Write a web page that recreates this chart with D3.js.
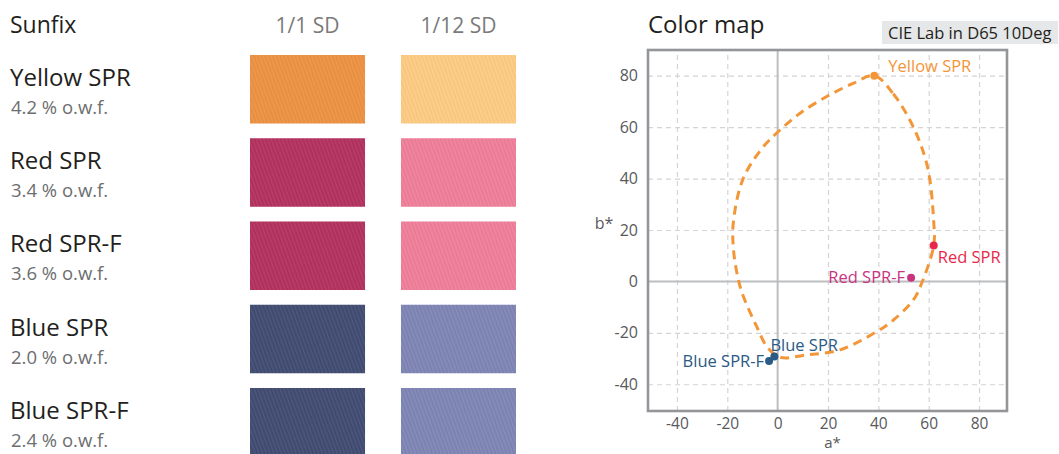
<!DOCTYPE html>
<html>
<head>
<meta charset="utf-8">
<script src="https://cdn.jsdelivr.net/npm/d3@7"></script>
<style>
  html, body { margin: 0; padding: 0; background: #fff; }
  svg { display: block; font-family: "Open Sans", "Noto Sans", sans-serif; }
</style>
</head>
<body>
<svg id="chart" width="1059" height="454"></svg>
<script>
// ---------- data ----------
const samples = ["Yellow SPR", "Red SPR", "Red SPR-F", "Blue SPR", "Blue SPR-F"];
const concentrations = ["4.2 % o.w.f.", "3.4 % o.w.f.", "3.6 % o.w.f.", "2.0 % o.w.f.", "2.4 % o.w.f."];
const depthColumns = ["1/1 SD", "1/12 SD"];
const swatchFull = ["#ec9142", "#b3315f", "#b3315f", "#414c72", "#414c72"];
const swatchLight = ["#fccb82", "#ef7e99", "#ef7e99", "#7f85b4", "#7f85b4"];

const pointLabels = ["Yellow SPR", "Red SPR", "Red SPR-F", "Blue SPR", "Blue SPR-F"];
const pointA = [38.4, 62.0, 53.0, -1.3, -3.4];
const pointB = [80.0, 14.0, 1.4, -29.2, -31.0];
const pointColors = ["#f39638", "#e8284b", "#c8347f", "#2b5a85", "#2b5a85"];

const gamutA = [38.4, 45.9, 53.8, 59.5, 62.0, 62.0, 57.2, 53.9, 46.0, 39.4, 24.8, 11.6, 1.0, -4.3, -8.3, -13.6, -15.6, -17.5, -17.6, -13.7, -6.0, 0.3, 8.9, 19.5, 30.0];
const gamutB = [80.0, 73.0, 60.2, 44.6, 23.0, 14.0, -0.7, -7.2, -15.0, -19.5, -26.6, -28.6, -29.5, -25.3, -17.6, -5.9, 0.6, 12.0, 23.0, 40.0, 52.0, 58.3, 65.4, 71.9, 77.0];

const xTicks = [-40, -20, 0, 20, 40, 60, 80];
const yTicks = [-40, -20, 0, 20, 40, 60, 80];

// ---------- svg ----------
const svg = d3.select("#chart");

// twill texture pattern
const defs = svg.append("defs");
const pat = defs.append("pattern")
  .attr("id", "twill").attr("patternUnits", "userSpaceOnUse")
  .attr("width", 3.5).attr("height", 4)
  .attr("patternTransform", "rotate(-20)");
pat.append("rect").attr("width", 1.4).attr("height", 4).attr("fill", "#fff").attr("opacity", 0.06);
pat.append("rect").attr("x", 2.2).attr("width", 0.9).attr("height", 4).attr("fill", "#000").attr("opacity", 0.04);

// ---------- left panel ----------
const rowScale = d3.scaleBand().domain(samples).range([55, 456.5]).paddingInner(0.177).paddingOuter(0);
const colScale = d3.scaleBand().domain(depthColumns).range([250, 516]).paddingInner(0.238).paddingOuter(0);

svg.append("text").attr("x", 10).attr("y", 33)
  .attr("font-size", 23).attr("fill", "#231f20").text("Sunfix");

svg.selectAll("text.colhead").data(depthColumns).join("text")
  .attr("class", "colhead")
  .attr("x", d => colScale(d) + colScale.bandwidth() / 2)
  .attr("y", 33).attr("text-anchor", "middle")
  .attr("font-size", 21).attr("fill", "#7a7a7a").text(d => d);

const rows = svg.selectAll("g.row").data(samples).join("g").attr("class", "row");
rows.append("text")
  .attr("x", 10).attr("y", d => rowScale(d) + 31)
  .attr("font-size", 24).attr("fill", "#231f20").text(d => d);
rows.append("text")
  .attr("x", 11).attr("y", (d, i) => rowScale(d) + 59)
  .attr("font-size", 18.5).attr("fill", "#6d6e70").text((d, i) => concentrations[i]);

[swatchFull, swatchLight].forEach((cols, ci) => {
  const col = depthColumns[ci];
  rows.append("rect")
    .attr("x", colScale(col)).attr("y", d => rowScale(d))
    .attr("width", colScale.bandwidth()).attr("height", rowScale.bandwidth())
    .attr("fill", (d, i) => cols[i]);
  rows.append("rect")
    .attr("x", colScale(col)).attr("y", d => rowScale(d))
    .attr("width", colScale.bandwidth()).attr("height", rowScale.bandwidth())
    .attr("fill", "url(#twill)");
});

// ---------- color map ----------
const x = d3.scaleLinear().domain([-51.5, 91.1]).range([648, 1007]);
const y = d3.scaleLinear().domain([-50.4, 90.0]).range([411, 50]);

svg.append("text").attr("x", 648).attr("y", 33)
  .attr("font-size", 24).attr("fill", "#231f20").text("Color map");

svg.append("rect").attr("x", 882).attr("y", 21).attr("width", 176).attr("height", 23).attr("fill", "#e6e7e8");
svg.append("text").attr("x", 888).attr("y", 39)
  .attr("font-size", 16.5).attr("fill", "#231f20").text("CIE Lab in D65 10Deg");

// grid
const gridX = svg.append("g").attr("transform", `translate(0,${y.range()[0]})`)
  .call(d3.axisBottom(x).tickValues(xTicks.filter(t => t !== 0)).tickSize(-(y.range()[0] - y.range()[1])).tickFormat(""));
gridX.select(".domain").remove();
gridX.selectAll("line").attr("stroke", "#d4d4d4").attr("stroke-width", 1.2).attr("stroke-dasharray", "5,4");

const gridY = svg.append("g").attr("transform", `translate(${x.range()[0]},0)`)
  .call(d3.axisLeft(y).tickValues(yTicks.filter(t => t !== 0)).tickSize(-(x.range()[1] - x.range()[0])).tickFormat(""));
gridY.select(".domain").remove();
gridY.selectAll("line").attr("stroke", "#d4d4d4").attr("stroke-width", 1.2).attr("stroke-dasharray", "5,4");

// zero lines
svg.append("line").attr("x1", x(0)).attr("x2", x(0)).attr("y1", y.range()[1]).attr("y2", y.range()[0])
  .attr("stroke", "#bcbec0").attr("stroke-width", 2);
svg.append("line").attr("x1", x.range()[0]).attr("x2", x.range()[1]).attr("y1", y(0)).attr("y2", y(0))
  .attr("stroke", "#bcbec0").attr("stroke-width", 2);

// frame
svg.append("rect")
  .attr("x", x.range()[0]).attr("y", y.range()[1])
  .attr("width", x.range()[1] - x.range()[0]).attr("height", y.range()[0] - y.range()[1])
  .attr("fill", "none").attr("stroke", "#939598").attr("stroke-width", 2.6);

// tick labels
const fmt = d => String(d);
const axX = svg.append("g").attr("transform", `translate(0,${y.range()[0] + 2})`)
  .call(d3.axisBottom(x).tickValues(xTicks).tickSize(0).tickPadding(5).tickFormat(fmt));
axX.select(".domain").remove();
axX.selectAll("text").attr("font-size", 15.5).attr("fill", "#58595b").attr("font-family", "Open Sans, sans-serif");

const axY = svg.append("g").attr("transform", `translate(${x.range()[0] - 8},0)`)
  .call(d3.axisLeft(y).tickValues(yTicks).tickSize(0).tickPadding(2).tickFormat(fmt));
axY.select(".domain").remove();
axY.selectAll("text").attr("font-size", 16).attr("fill", "#58595b").attr("font-family", "Open Sans, sans-serif");

svg.append("text").attr("x", (x.range()[0] + x.range()[1]) / 2 + 5).attr("y", 448)
  .attr("text-anchor", "middle").attr("font-size", 15).attr("fill", "#58595b").text("a*");
svg.append("text").attr("x", 604).attr("y", 229)
  .attr("text-anchor", "middle").attr("font-size", 16).attr("fill", "#58595b").text("b*");

// gamut curve
const gamut = gamutA.map((a, i) => [a, gamutB[i]]);
svg.append("path")
  .attr("d", d3.line().x(d => x(d[0])).y(d => y(d[1])).curve(d3.curveCatmullRomClosed.alpha(0.5))(gamut))
  .attr("fill", "none").attr("stroke", "#f39638").attr("stroke-width", 3)
  .attr("stroke-dasharray", "9,6");

// points
const pts = pointA.map((a, i) => ({ a, b: pointB[i], label: pointLabels[i], color: pointColors[i] }));
svg.selectAll("circle.pt").data(pts).join("circle")
  .attr("class", "pt")
  .attr("cx", d => x(d.a)).attr("cy", d => y(d.b)).attr("r", 4)
  .attr("fill", d => d.color);

const labelOffsets = [
  { dx: 14, dy: -4, anchor: "start" },
  { dx: 4, dy: 18, anchor: "start" },
  { dx: -6, dy: 5, anchor: "end" },
  { dx: -4, dy: -5, anchor: "start" },
  { dx: -5, dy: 6, anchor: "end" }
];
svg.selectAll("text.ptlabel").data(pts).join("text")
  .attr("class", "ptlabel")
  .attr("x", (d, i) => x(d.a) + labelOffsets[i].dx)
  .attr("y", (d, i) => y(d.b) + labelOffsets[i].dy)
  .attr("text-anchor", (d, i) => labelOffsets[i].anchor)
  .attr("font-size", 16.5).attr("fill", d => d.color).text(d => d.label);
</script>
</body>
</html>
